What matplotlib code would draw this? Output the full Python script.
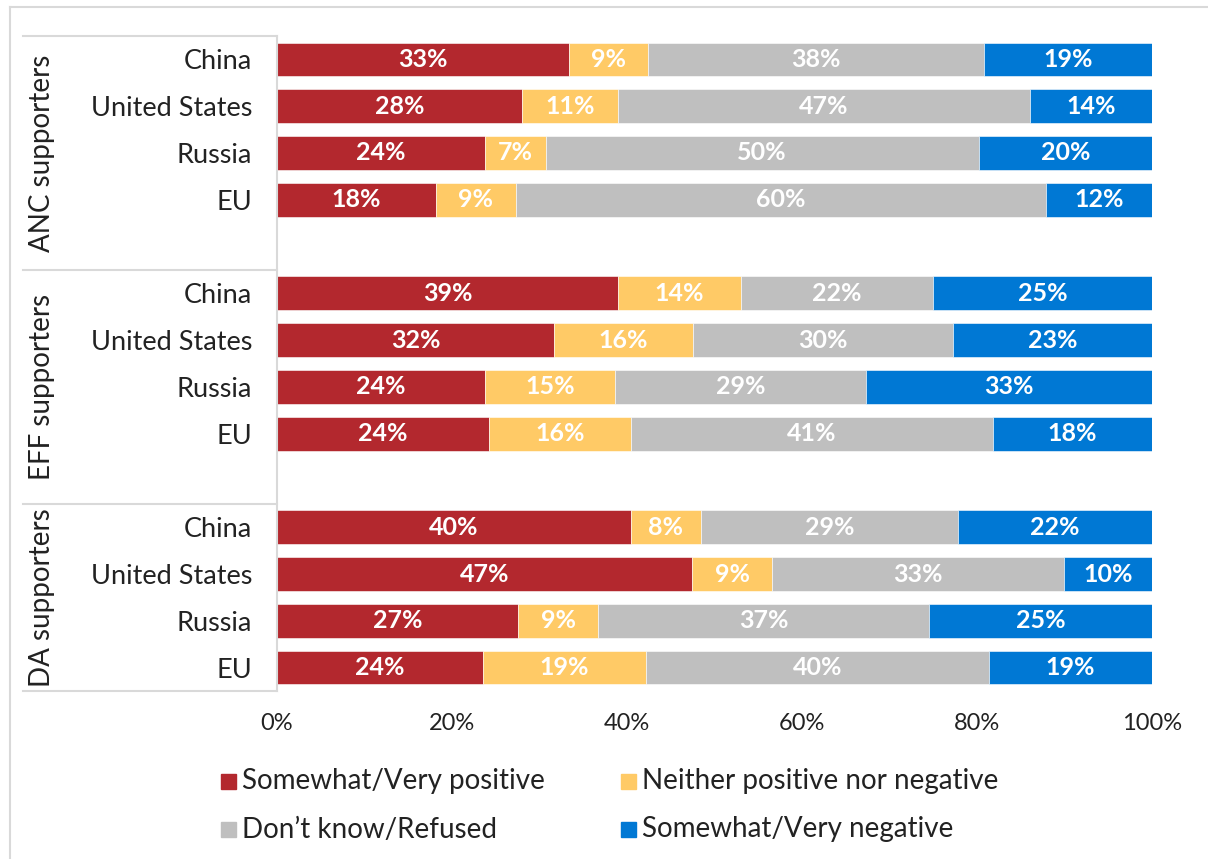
import numpy as np
import matplotlib
matplotlib.use('Agg')
import matplotlib.pyplot as plt
from matplotlib.patches import Rectangle
from matplotlib.lines import Line2D
import matplotlib.transforms as mtransforms

plt.rcParams['font.family'] = ['Lato', 'DejaVu Sans']

groups = ['ANC supporters', 'EFF supporters', 'DA supporters']
countries = ['China', 'United States', 'Russia', 'EU']
series = ['Somewhat/Very positive', 'Neither positive nor negative',
          "Don\u2019t know/Refused", 'Somewhat/Very negative']
colors = ['#B3282E', '#FFCA66', '#BFBFBF', '#0078D4']

# rows: China, US, Russia, EU for each group
positive = [33, 28, 24, 18, 39, 32, 24, 24, 40, 47, 27, 24]
neither = [9, 11, 7, 9, 14, 16, 15, 16, 8, 9, 9, 19]
dont_know = [38, 47, 50, 60, 22, 30, 29, 41, 29, 33, 37, 40]
negative = [19, 14, 20, 12, 25, 23, 33, 18, 22, 10, 25, 19]

W, H = 1208, 859
fig = plt.figure(figsize=(W / 100, H / 100), dpi=100)

# outer frame
fig.add_artist(Line2D([10 / W, 1.0], [1 - 7 / H, 1 - 7 / H], color='#D9D9D9', lw=1.5))
fig.add_artist(Line2D([10 / W, 10 / W], [0, 1 - 7 / H], color='#D9D9D9', lw=1.5))

ax = fig.add_axes([277 / W, 1 - 691 / H, 875 / W, 655 / H])

data = np.array([positive, neither, dont_know, negative], dtype=float)
shares = data / data.sum(axis=0) * 100

# slot positions: each group gets 5 slots (4 bars + gap)
ypos = np.array([5 * g + r for g in range(3) for r in range(4)])

left = np.zeros(len(ypos))
for i in range(4):
    ax.barh(ypos, shares[i], left=left, height=0.72, color=colors[i],
            edgecolor='white', linewidth=0.4)
    for y, l, w, v in zip(ypos, left, shares[i], data[i]):
        ax.text(l + w / 2, y, f'{int(v)}%', ha='center', va='center',
                color='white', fontsize=18, fontweight='bold')
    left += shares[i]

ax.set_xlim(0, 100)
ax.set_ylim(13.5, -0.5)
ax.set_xticks(np.arange(0, 101, 20))
ax.set_xticklabels([f'{t}%' for t in range(0, 101, 20)])
ax.set_yticks(ypos)
ax.set_yticklabels(countries * 3)
ax.tick_params(axis='y', length=0, pad=18, labelsize=19.5, labelcolor='#222222')
ax.tick_params(axis='x', length=0, pad=16, labelsize=17, labelcolor='#222222')
for s in ['top', 'right', 'bottom']:
    ax.spines[s].set_visible(False)
ax.spines['left'].set_color('#D9D9D9')
ax.spines['left'].set_linewidth(1.5)

# category table lines and group labels
trans = mtransforms.blended_transform_factory(ax.transAxes, ax.transData)
x0 = (23 - 277) / 875
for yb in [-0.5, 4.5, 9.5, 13.5]:
    ax.plot([x0, 0], [yb, yb], color='#D9D9D9', lw=1.5, transform=trans, clip_on=False)
for g, name in enumerate(groups):
    yc = [2, 7, 11.5][g]
    ax.text((42 - 277) / 875, yc, name, rotation=90, ha='center', va='center',
            fontsize=20, color='#222222', transform=trans)

# legend
for i, name in enumerate(series):
    col, row = i % 2, i // 2
    mx = [221, 621][col]
    my = [781.5, 829.5][row]
    fig.add_artist(Rectangle((mx / W, 1 - (my + 7.5) / H), 15 / W, 15 / H,
                             color=colors[i], transform=fig.transFigure))
    fig.text((mx + 21) / W, 1 - my / H, name, ha='left', va='center',
             fontsize=20, color='#222222')

fig.savefig('out.png', dpi=100)
